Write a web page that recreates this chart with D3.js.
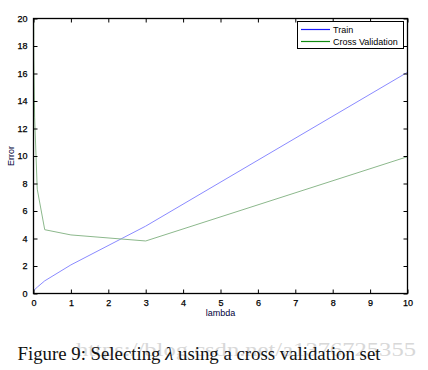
<!DOCTYPE html>
<html>
<head>
<meta charset="utf-8">
<script src="https://cdn.jsdelivr.net/npm/d3@7"></script>
<style>
  html, body { margin: 0; padding: 0; background: #fff; }
  svg { display: block; }
  .tick text { font-family: "Liberation Sans", Arial, sans-serif; font-size: 9px; fill: #000; stroke: #000; stroke-width: 0.25px; }
</style>
</head>
<body>
<div id="chart"></div>
<script>
'use strict';

// values (ex5 learning-curve run)
var lambdaVec = [0, 0.001, 0.003, 0.01, 0.03, 0.1, 0.3, 1, 3, 10];
var trainError = [0.17, 0.16, 0.19, 0.22, 0.28, 0.46, 0.92, 2.08, 4.90, 16.09];
var cvError = [22.07, 18.60, 19.97, 16.95, 12.83, 7.59, 4.64, 4.26, 3.82, 9.95];
var xTicks = [0, 1, 2, 3, 4, 5, 6, 7, 8, 9, 10];
var yTicks = [0, 2, 4, 6, 8, 10, 12, 14, 16, 18, 20];
var seriesNames = ['Train', 'Cross Validation'];

var W = 428, H = 370;
var plotLeft = 33.5, plotRight = 407.5, plotTop = 18.5, plotBottom = 293.5;

var svg = d3.select('#chart').append('svg')
  .attr('width', W)
  .attr('height', H);

var x = d3.scaleLinear().domain([0, 10]).range([plotLeft, plotRight]);
var y = d3.scaleLinear().domain([0, 20]).range([plotBottom, plotTop]);

// clip so the cv curve stops at the top border like matlab
svg.append('clipPath').attr('id', 'plotclip')
  .append('rect')
  .attr('x', plotLeft).attr('y', plotTop)
  .attr('width', plotRight - plotLeft).attr('height', plotBottom - plotTop);

var line = d3.line()
  .x(function(d) { return x(d[0]); })
  .y(function(d) { return y(d[1]); });

var plot = svg.append('g').attr('clip-path', 'url(#plotclip)');

plot.append('path')
  .datum(d3.zip(lambdaVec, trainError))
  .attr('d', line)
  .attr('fill', 'none')
  .attr('stroke', '#8a8aff')
  .attr('stroke-width', 1);

plot.append('path')
  .datum(d3.zip(lambdaVec, cvError))
  .attr('d', line)
  .attr('fill', 'none')
  .attr('stroke', '#8cb88c')
  .attr('stroke-width', 1);

// axes, ticks pointing inward on all four sides
var bottomAxis = d3.axisBottom(x).tickValues(xTicks).tickSizeInner(-4).tickSizeOuter(0).tickPadding(6);
var topAxis = d3.axisTop(x).tickValues(xTicks).tickSizeInner(-4).tickSizeOuter(0).tickFormat('');
var leftAxis = d3.axisLeft(y).tickValues(yTicks).tickSizeInner(-4).tickSizeOuter(0).tickPadding(6);
var rightAxis = d3.axisRight(y).tickValues(yTicks).tickSizeInner(-4).tickSizeOuter(0).tickFormat('');

function styleAxis(g) {
  g.select('.domain').remove();
  g.selectAll('.tick line').attr('stroke', '#000').attr('stroke-width', 1);
}

svg.append('g').attr('transform', 'translate(0,' + plotBottom + ')').call(bottomAxis).call(styleAxis);
svg.append('g').attr('transform', 'translate(0,' + plotTop + ')').call(topAxis).call(styleAxis);
svg.append('g').attr('transform', 'translate(' + plotLeft + ',0)').call(leftAxis).call(styleAxis);
svg.append('g').attr('transform', 'translate(' + plotRight + ',0)').call(rightAxis).call(styleAxis);

svg.selectAll('.tick text').attr('font-family', null).attr('font-size', null);

svg.append('rect')
  .attr('x', plotLeft).attr('y', plotTop)
  .attr('width', plotRight - plotLeft).attr('height', plotBottom - plotTop)
  .attr('fill', 'none')
  .attr('stroke', '#000')
  .attr('stroke-width', 1.3);

// axis labels
svg.append('text')
  .attr('x', (plotLeft + plotRight) / 2)
  .attr('y', 316)
  .attr('text-anchor', 'middle')
  .attr('font-family', 'Liberation Sans, Arial, sans-serif')
  .attr('font-size', 9)
  .attr('fill', '#00003a')
  .text('lambda');

svg.append('text')
  .attr('transform', 'translate(14,156) rotate(-90)')
  .attr('text-anchor', 'middle')
  .attr('font-family', 'Liberation Sans, Arial, sans-serif')
  .attr('font-size', 9)
  .attr('fill', '#00003a')
  .text('Error');

// legend
var legend = svg.append('g');
legend.append('rect')
  .attr('x', 297.5).attr('y', 21.5)
  .attr('width', 106).attr('height', 27)
  .attr('fill', '#fff')
  .attr('stroke', '#000')
  .attr('stroke-width', 1);

var legendColors = ['#1a1aff', '#108a10'];
seriesNames.forEach(function(name, i) {
  var ly = 29.5 + i * 12;
  legend.append('line')
    .attr('x1', 301).attr('x2', 330)
    .attr('y1', ly).attr('y2', ly)
    .attr('stroke', legendColors[i])
    .attr('stroke-width', 1.2);
  legend.append('text')
    .attr('x', 333)
    .attr('y', ly + 3.2)
    .attr('font-family', 'Liberation Sans, Arial, sans-serif')
    .attr('font-size', 9)
    .attr('fill', '#000')
    .text(name);
});

// caption + the faint blog watermark sitting over it
svg.append('text')
  .attr('x', 76)
  .attr('y', 356)
  .attr('font-family', 'Liberation Serif, serif')
  .attr('font-size', 18)
  .attr('fill', '#d8d8d8')
  .attr('textLength', 340)
  .attr('lengthAdjust', 'spacingAndGlyphs')
  .text('https://blog.csdn.net/a1376725355');

svg.append('text')
  .attr('x', 17.5)
  .attr('y', 360)
  .attr('font-family', 'Liberation Serif, serif')
  .attr('font-size', 19)
  .attr('fill', '#111')
  .attr('textLength', 363)
  .attr('lengthAdjust', 'spacingAndGlyphs')
  .html('Figure 9: Selecting <tspan font-style="italic">λ</tspan> using a cross validation set');
</script>
</body>
</html>
